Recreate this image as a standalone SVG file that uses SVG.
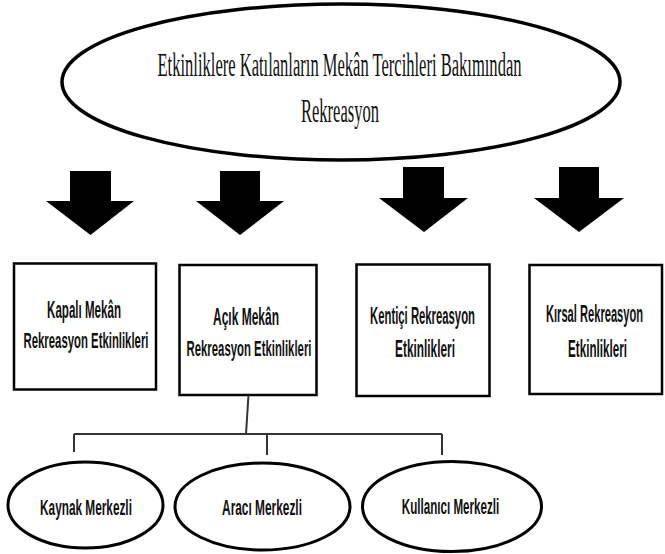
<svg xmlns="http://www.w3.org/2000/svg" width="665" height="554" viewBox="0 0 665 554">
<style>
.bg{fill:#fff}
.big{fill:#fff;stroke:#000;stroke-width:3.5}
.box{fill:#fff;stroke:#000;stroke-width:2.5}
.ell{fill:#fff;stroke:#000;stroke-width:3}
.arrow{fill:#000}
.conn{fill:none;stroke:#333;stroke-width:2}
.t1{font-family:"Liberation Serif","Times New Roman",serif;font-size:34px;fill:#111;text-anchor:middle}
.t2{font-family:"Liberation Sans",Arial,sans-serif;font-weight:bold;font-size:23px;fill:#111;text-anchor:middle}
.t3{font-family:"Liberation Sans",Arial,sans-serif;font-weight:bold;font-size:22px;fill:#111;text-anchor:middle}
</style>
<rect class="bg" x="0" y="0" width="665" height="554"/>
<g id="root">
<ellipse class="big" cx="341" cy="82" rx="279" ry="78"/>
<text class="t1" transform="translate(339.5,76) scale(0.485,1)" textLength="750.5" lengthAdjust="spacingAndGlyphs">Etkinliklere Katılanların Mekân Tercihleri Bakımından</text>
<text class="t1" transform="translate(340,122) scale(0.486,1)" textLength="160.5" lengthAdjust="spacingAndGlyphs">Rekreasyon</text>
</g>
<g id="arrows">
<polygon class="arrow" points="70,171 111,171 111,201 134,201 90.5,235 46,201 70,201"/>
<polygon class="arrow" points="220,171 260,171 260,201 284,201 240,235 196,201 220,201"/>
<polygon class="arrow" points="403,167 444,167 444,198 468,198 424,232 379,198 403,198"/>
<polygon class="arrow" points="559,167 599,167 599,198 624,198 579,232 534,198 559,198"/>
</g>
<g id="kapali">
<rect class="box" x="14" y="263.5" width="142" height="126"/>
<text class="t2" transform="translate(84,318) scale(0.503,1)" textLength="147" lengthAdjust="spacingAndGlyphs">Kapalı Mekân</text>
<text class="t2" transform="translate(86,348) scale(0.494,1)" textLength="253" lengthAdjust="spacingAndGlyphs">Rekreasyon Etkinlikleri</text>
</g>
<g id="acik">
<rect class="box" x="179.5" y="265" width="137" height="130"/>
<text class="t2" transform="translate(246,325) scale(0.52,1)" textLength="127" lengthAdjust="spacingAndGlyphs">Açık Mekân</text>
<text class="t2" transform="translate(249,356) scale(0.494,1)" textLength="253" lengthAdjust="spacingAndGlyphs">Rekreasyon Etkinlikleri</text>
</g>
<g id="kentici">
<rect class="box" x="356.5" y="264.5" width="133" height="131.5"/>
<text class="t2" transform="translate(422.5,324) scale(0.49,1)" textLength="214" lengthAdjust="spacingAndGlyphs">Kentiçi Rekreasyon</text>
<text class="t2" transform="translate(425,357) scale(0.516,1)" textLength="116" lengthAdjust="spacingAndGlyphs">Etkinlikleri</text>
</g>
<g id="kirsal">
<rect class="box" x="529.5" y="265" width="132.5" height="129"/>
<text class="t2" transform="translate(594.5,322) scale(0.483,1)" textLength="201" lengthAdjust="spacingAndGlyphs">Kırsal Rekreasyon</text>
<text class="t2" transform="translate(597.5,357) scale(0.508,1)" textLength="116" lengthAdjust="spacingAndGlyphs">Etkinlikleri</text>
</g>
<g id="connectors">
<path class="conn" d="M248.5,395 L246,434 M74,434 L442,434 M74,434 L74,452 M267,434 L267,455 M442,434 L442,455"/>
</g>
<g id="kaynak">
<ellipse class="ell" cx="85.5" cy="505" rx="77.5" ry="43"/>
<text class="t3" transform="translate(86,515) scale(0.537,1)" textLength="171" lengthAdjust="spacingAndGlyphs">Kaynak Merkezli</text>
</g>
<g id="araci">
<ellipse class="ell" cx="262.5" cy="506.5" rx="87.5" ry="43.5"/>
<text class="t3" transform="translate(262,515) scale(0.54,1)" textLength="148" lengthAdjust="spacingAndGlyphs">Aracı Merkezli</text>
</g>
<g id="kullanici">
<ellipse class="ell" cx="452" cy="506.5" rx="89.5" ry="45"/>
<text class="t3" transform="translate(450.5,514) scale(0.528,1)" textLength="184.6" lengthAdjust="spacingAndGlyphs">Kullanıcı Merkezli</text>
</g>
</svg>
